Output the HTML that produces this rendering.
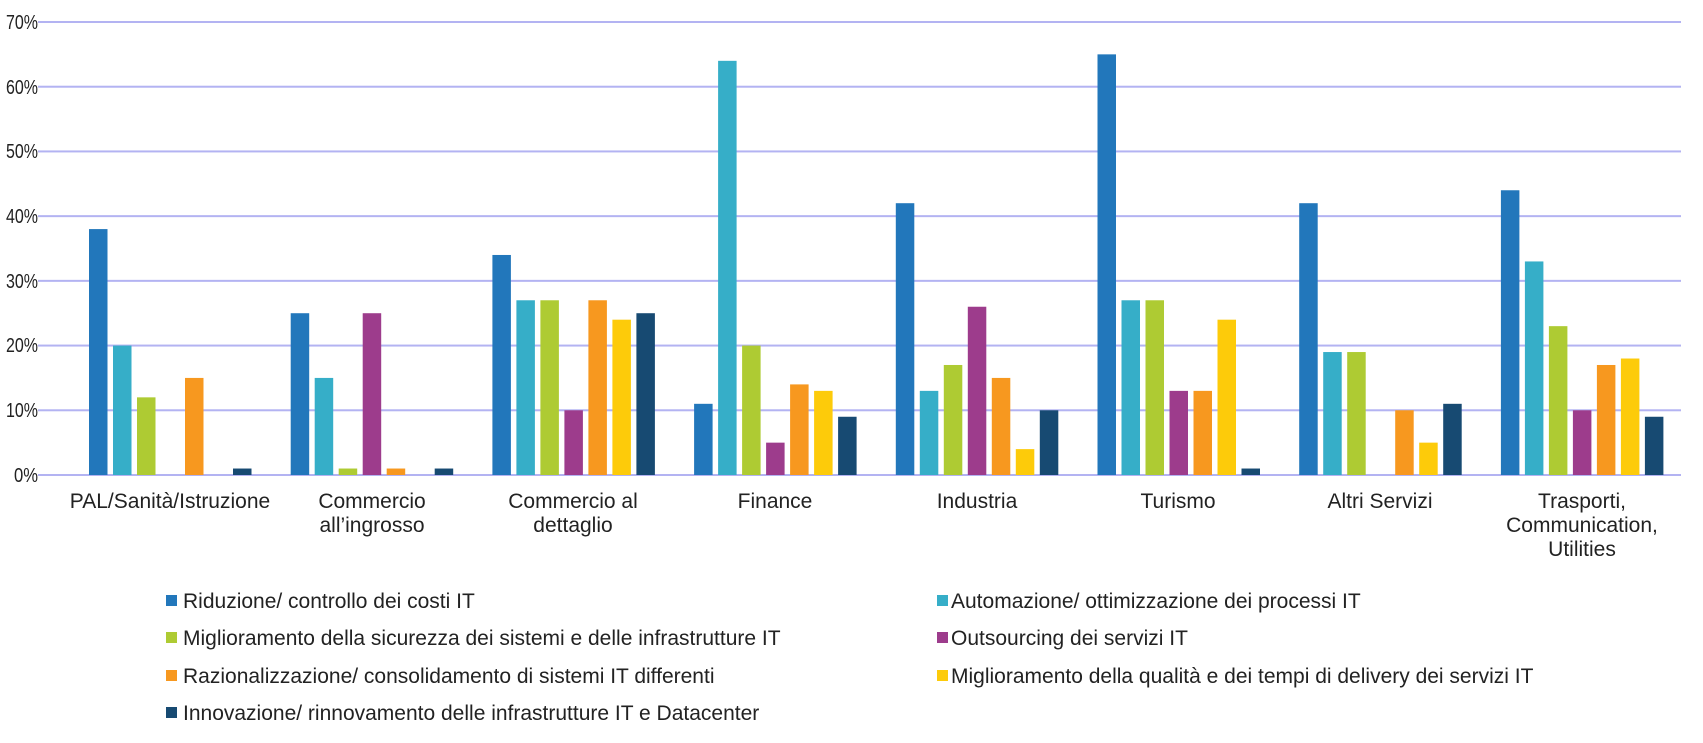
<!DOCTYPE html>
<html><head><meta charset="utf-8"><style>
html,body{margin:0;padding:0;background:#fff;}
svg{display:block;font-family:"Liberation Sans",Arial,sans-serif;}
</style></head><body>
<svg id="c" width="1703" height="743" xmlns="http://www.w3.org/2000/svg">
<g id="grid"></g>
<g font-size="20" fill="#222" text-anchor="end" lengthAdjust="spacingAndGlyphs">
<text x="38" y="29" textLength="32" lengthAdjust="spacingAndGlyphs">70%</text>
<text x="38" y="94" textLength="32" lengthAdjust="spacingAndGlyphs">60%</text>
<text x="38" y="158" textLength="32" lengthAdjust="spacingAndGlyphs">50%</text>
<text x="38" y="223" textLength="32" lengthAdjust="spacingAndGlyphs">40%</text>
<text x="38" y="288" textLength="32" lengthAdjust="spacingAndGlyphs">30%</text>
<text x="38" y="352" textLength="32" lengthAdjust="spacingAndGlyphs">20%</text>
<text x="38" y="417" textLength="32" lengthAdjust="spacingAndGlyphs">10%</text>
<text x="38" y="482" textLength="24" lengthAdjust="spacingAndGlyphs">0%</text>
</g>
<g id="bars"></g>
<g font-size="21" fill="#222" text-anchor="middle">
<text x="170" y="508">PAL/Sanità/Istruzione</text>
<text x="372" y="508">Commercio</text><text x="372" y="532">all’ingrosso</text>
<text x="573" y="508">Commercio al</text><text x="573" y="532">dettaglio</text>
<text x="775" y="508">Finance</text>
<text x="977" y="508">Industria</text>
<text x="1178" y="508">Turismo</text>
<text x="1380" y="508">Altri Servizi</text>
<text x="1582" y="508">Trasporti,</text><text x="1582" y="532">Communication,</text><text x="1582" y="556">Utilities</text>
</g>
<g font-size="21" fill="#222">
<rect x="166" y="595" width="11" height="11" fill="#2277BB"/><text x="183" y="608">Riduzione/ controllo dei costi IT</text>
<rect x="937" y="595" width="11" height="11" fill="#36AEC8"/><text x="951" y="608">Automazione/ ottimizzazione dei processi IT</text>
<rect x="166" y="632" width="11" height="11" fill="#AECB33"/><text x="183" y="645">Miglioramento della sicurezza dei sistemi e delle infrastrutture IT</text>
<rect x="937" y="632" width="11" height="11" fill="#9D3C8C"/><text x="951" y="645">Outsourcing dei servizi IT</text>
<rect x="166" y="670" width="11" height="11" fill="#F7981F"/><text x="183" y="683">Razionalizzazione/ consolidamento di sistemi IT differenti</text>
<rect x="937" y="670" width="11" height="11" fill="#FDCB0A"/><text x="951" y="683">Miglioramento della qualità e dei tempi di delivery dei servizi IT</text>
<rect x="166" y="707" width="11" height="11" fill="#174A72"/><text x="183" y="720">Innovazione/ rinnovamento delle infrastrutture IT e Datacenter</text>
</g>
</svg>
<script>
var ns="http://www.w3.org/2000/svg";
var y0=475,y70=22,k=(y0-y70)/70;
var g=document.getElementById("grid");
for(var i=0;i<=7;i++){var y=y0-i*10*k;var l=document.createElementNS(ns,"rect");
l.setAttribute("x",38);l.setAttribute("y",y-1);l.setAttribute("width",1643);l.setAttribute("height",2);l.setAttribute("fill","#B3B3F2");g.appendChild(l);}
var cols=["#2277BB","#36AEC8","#AECB33","#9D3C8C","#F7981F","#FDCB0A","#174A72"];
var d=[[38,20,12,0,15,0,1],[25,15,1,25,1,0,1],[34,27,27,10,27,24,25],[11,64,20,5,14,13,9],[42,13,17,26,15,4,10],[65,27,27,13,13,24,1],[42,19,19,0,10,5,11],[44,33,23,10,17,18,9]];
var b=document.getElementById("bars");
for(var gi=0;gi<8;gi++){var c=170+201.7*gi;
for(var s=0;s<7;s++){var v=d[gi][s];if(!v)continue;var h=v*k;var x=c-81+s*24;
var r=document.createElementNS(ns,"rect");r.setAttribute("x",x);r.setAttribute("y",y0-h);r.setAttribute("width",18.5);r.setAttribute("height",h);r.setAttribute("fill",cols[s]);b.appendChild(r);}}
</script>
</body></html>
